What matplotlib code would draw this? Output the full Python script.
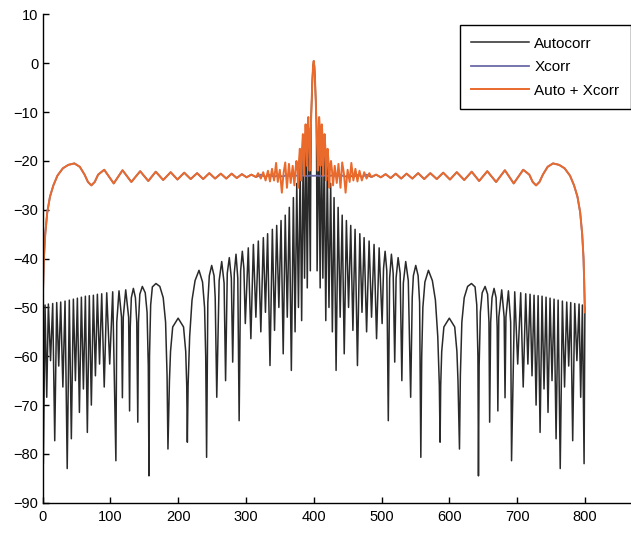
import matplotlib
matplotlib.use("Agg")
import matplotlib.pyplot as plt
import numpy as np

plt.rcParams['font.family'] = ['Liberation Sans', 'DejaVu Sans']

# All curves are symmetric about the centre sample (x = 400); values are given
# as a function of lag d = |x - 400| and drawn on both sides.
CENTER = 400

# ---- Autocorr (black): lag, dB ----
auto_lag = [0, 1, 2, 3, 4, 5, 7.5, 9.5, 11.5, 13.5, 15.5, 17.8, 20, 22.5, 25, 27.5, 30, 33, 36, 39,
            42, 45, 48.2, 51.4, 54.6, 57.8, 61, 64.5, 68, 71.2, 74.3, 78, 81.7, 85.3, 89, 92.7,
            96.5, 100.9, 103, 105.3, 107.8, 110, 112, 114.6, 117.2, 119.5, 121.5, 124.5, 127.5,
            130, 132.2, 135.7, 139.5, 143, 145.3, 147, 150.5, 154, 156.2, 158, 159.3, 161, 164,
            169.2, 175, 179.5, 183, 185.3, 186.4, 187.3, 188.8, 192, 200, 208, 211.2, 212.8, 215,
            216.3, 218.5, 222, 227, 232.7, 238, 240.5, 242.2, 243, 244, 245.8, 248.5, 252.8,
            256.5, 258.5, 259.5, 261, 263, 266, 269, 270.6, 271.6, 273, 277.3, 280.9, 282.2,
            283.5, 287.2, 290.5, 291.8, 296.5, 300.9, 305.3, 309, 312.7, 315.9, 319.1, 322, 325,
            328, 331, 333.9, 336.8, 339.7, 342.7, 345.6, 348.6, 351.5, 354.5, 357.5, 360.5, 363.6,
            366.8, 370, 373.2, 376.1, 379.1, 382, 385, 388.2, 391.4, 393.8, 396.3, 398.8, 400]
auto_db = [0.5, -0.6, -3.5, -7.5, -12, -42.5, -13.3, -46, -14.7, -44, -17.8, -52.7, -21.2, -50, -24.6,
           -55, -27.5, -62.9, -29.5, -52, -31.1, -59.5, -32.2, -50, -33.2, -54.7, -34.0, -61.9, -34.9,
           -51, -35.7, -55, -36.4, -52, -37.1, -56.4, -37.8, -53.3, -42, -38.5, -42.5, -73.2, -44,
           -39.1, -43, -61.2, -44, -39.8, -43, -65, -45, -40.6, -44.5, -68.4, -48, -43.5, -41.4,
           -43.5, -49, -80.7, -60, -50, -44.8, -42.4, -44.5, -48.5, -56, -66, -77.6, -66, -59, -54,
           -52.2, -54, -59, -65, -79, -64, -53, -48, -45.7, -45.1, -45.8, -49.5, -60, -84.5, -62,
           -51, -47, -45.7, -47.3, -53, -73.5, -53, -48, -46.1, -48, -54, -71.2, -52, -46.4, -52,
           -68.5, -52, -46.6, -53, -81.4, -46.8, -61.6, -47.0, -66.3, -47.2, -61.6, -47.3, -64,
           -47.5, -70, -47.6, -75.6, -47.7, -66.7, -47.9, -71.5, -48.1, -65, -48.3, -76.9, -48.5,
           -83, -48.7, -66.3, -48.9, -62, -49.0, -77.3, -49.2, -60.9, -49.3, -68.4, -49.5, -82, -50]

# ---- Xcorr (blue): lag, dB ----
xc_lag = [0, 5, 10.5, 16, 22, 28, 34, 40, 46, 52, 58.5, 65, 71.5, 78, 85, 92, 99, 106, 113.5, 121,
          129, 137, 145.5, 154, 163, 172, 181.5, 191, 201, 211, 222, 233, 244, 256, 269, 282, 295,
          309, 318, 323, 328, 333, 338, 345, 353, 362, 370, 378, 384, 389, 393, 396, 398, 399, 400]
xc_db = [-23.05, -23.0, -23.1, -23.0, -23.1, -22.95, -23.15, -22.9, -23.2, -22.9, -23.25, -22.85,
         -23.25, -22.8, -23.3, -22.8, -23.35, -22.7, -23.5, -22.6, -23.6, -22.6, -23.6, -22.5,
         -23.7, -22.5, -23.7, -22.4, -23.8, -22.3, -23.9, -22.2, -24.1, -22.1, -24.3, -21.9,
         -24.6, -21.8, -22.8, -24.3, -25.0, -24.3, -22.8, -21.2, -20.5, -20.8, -21.5, -23.0,
         -25.0, -27.3, -30.5, -35, -40, -45, -51]

# ---- Auto + Xcorr (orange): central part (lag, dB); beyond it equals Xcorr ----
sum_lag_center = [0, 1, 2, 3, 4, 5, 6, 7, 8, 9, 10, 11, 12, 13, 14, 15, 16, 17.5, 18.5, 19.5, 20.5,
                  22, 23, 24, 25.5, 27, 28.5, 31, 34, 36.5, 39.5, 42, 44.5, 47, 50, 53, 55.5, 58.5,
                  61.5, 64.5, 67.5, 71, 74.5, 78, 82]
sum_db_center = [0.5, -0.6, -3.5, -7.5, -12, -17, -22, -15, -11, -13, -21, -15, -12.5, -15, -23, -18,
                 -14.5, -18, -24, -19.5, -17.5, -20.5, -25.5, -21.5, -20, -22, -25, -21, -24.5, -20.6,
                 -25.5, -20.3, -22.5, -26.5, -21.8, -24.3, -20.4, -24, -21.6, -24.2, -22, -24.0,
                 -22.3, -23.6, -22.5]

labels = ['Autocorr', 'Xcorr', 'Auto + Xcorr']
colors = ['#2a2a2a', '#6a6aa6', '#ea6a2c']


def both_sides(lag, db):
    lag = np.asarray(lag, float)
    db = np.asarray(db, float)
    x = np.concatenate([CENTER - lag[::-1], CENTER + lag[1:]])
    y = np.concatenate([db[::-1], db[1:]])
    return x, y


sum_lag = list(sum_lag_center) + [d for d in xc_lag if d >= 85]
sum_db = list(sum_db_center) + [v for d, v in zip(xc_lag, xc_db) if d >= 85]

fig = plt.figure(figsize=(6.31, 5.33), dpi=100)
ax = fig.add_axes([0.0674, 0.0568, 0.9326, 0.916])

xa, ya = both_sides(auto_lag, auto_db)
xb, yb = both_sides(xc_lag, xc_db)
xs, ys = both_sides(sum_lag, sum_db)

ax.plot(xa, ya, color=colors[0], lw=1.1, label=labels[0], solid_joinstyle='round')
ax.plot(xb, yb, color=colors[1], lw=1.3, label=labels[1], solid_joinstyle='round')
ax.plot(xs, ys, color=colors[2], lw=1.4, label=labels[2], solid_joinstyle='round')

ax.set_xlim(0, 868)
ax.set_ylim(-90, 10)
ax.set_xticks(np.arange(0, 801, 100))
ax.set_yticks(np.arange(-90, 11, 10))
ax.spines['top'].set_visible(False)
ax.spines['right'].set_visible(False)
ax.spines['left'].set_linewidth(1.0)
ax.spines['bottom'].set_linewidth(1.0)
ax.tick_params(direction='in', length=4, width=1.0, labelsize=10.5, pad=3)
ax.tick_params(axis='x', pad=5)

leg = ax.legend(loc='upper right', bbox_to_anchor=(1.0, 0.978), fontsize=11,
                handlelength=3.8, handletextpad=0.33, labelspacing=0.62,
                borderpad=0.75, borderaxespad=0.0, fancybox=False, framealpha=1)
leg.get_frame().set_edgecolor('black')
leg.get_frame().set_linewidth(1.0)

fig.savefig('out.png', dpi=100)
